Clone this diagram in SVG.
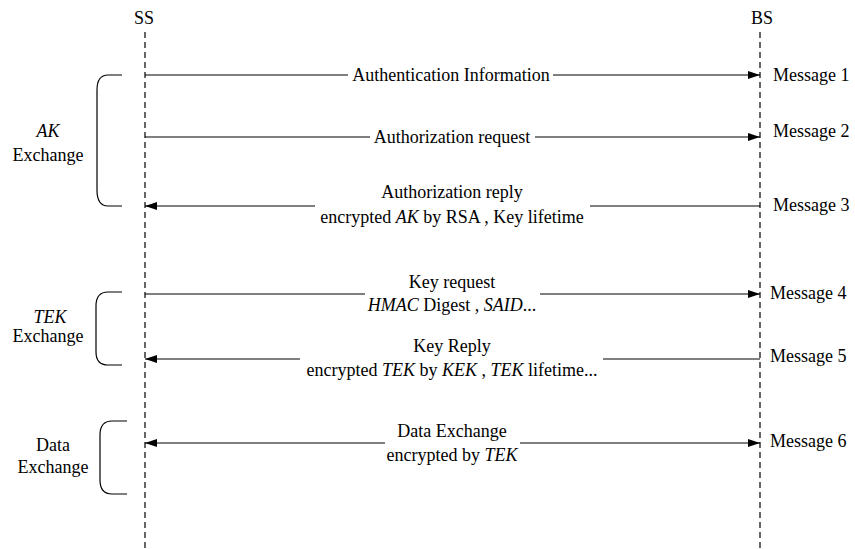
<svg xmlns="http://www.w3.org/2000/svg" width="855" height="549" viewBox="0 0 855 549" font-family="'Liberation Serif','Times New Roman',serif">
<style>
text{font-family:"Liberation Serif","Times New Roman",serif;font-size:18px;fill:#000}
.c{text-anchor:middle}
.i{font-style:italic}
.life{stroke:#000;stroke-width:1.2;stroke-dasharray:6,4;fill:none}
.ln{stroke:#000;stroke-width:1.2;fill:none}
.br{stroke:#000;stroke-width:1.2;fill:none}
</style>
<defs>
<marker id="ah" viewBox="0 0 12 8" refX="12" refY="4" markerWidth="12" markerHeight="8" markerUnits="userSpaceOnUse" orient="auto-start-reverse">
<path d="M0,0 L12,4 L0,8 Z" fill="#000"/>
</marker>
</defs>
<rect width="855" height="549" fill="#fff"/>
<g id="SS">
<text class="c" x="144" y="24">SS</text>
<line class="life" x1="145" y1="32" x2="145" y2="549"/>
</g>
<g id="BS">
<text class="c" x="762" y="24">BS</text>
<line class="life" x1="760" y1="32" x2="760" y2="549"/>
</g>
<g id="brace-ak">
<path class="br" d="M122,75 H108 Q97,75 97,90 V190 Q97,206 108,206 H122"/>
<text class="c i" x="48" y="137">AK</text>
<text class="c" x="48" y="161">Exchange</text>
</g>
<g id="brace-tek">
<path class="br" d="M122,292 H108 Q96,292 96,306 V352 Q96,365 108,365 H122"/>
<text class="c i" x="50" y="323">TEK</text>
<text class="c" x="48" y="342">Exchange</text>
</g>
<g id="brace-data">
<path class="br" d="M127,421 H112 Q100,421 100,435 V480 Q100,494 112,494 H127"/>
<text class="c" x="53" y="451">Data</text>
<text class="c" x="53" y="473">Exchange</text>
</g>
<g id="connectors">
<line class="ln" x1="145" y1="75" x2="348" y2="75"/>
<line class="ln" x1="553" y1="75" x2="760" y2="75" marker-end="url(#ah)"/>
<line class="ln" x1="145" y1="137" x2="370" y2="137"/>
<line class="ln" x1="535" y1="137" x2="760" y2="137" marker-end="url(#ah)"/>
<line class="ln" x1="315" y1="206" x2="145" y2="206" marker-end="url(#ah)"/>
<line class="ln" x1="590" y1="206" x2="760" y2="206"/>
<line class="ln" x1="145" y1="294" x2="365" y2="294"/>
<line class="ln" x1="540" y1="294" x2="760" y2="294" marker-end="url(#ah)"/>
<line class="ln" x1="300" y1="359" x2="145" y2="359" marker-end="url(#ah)"/>
<line class="ln" x1="603" y1="359" x2="760" y2="359"/>
<line class="ln" x1="385" y1="443" x2="145" y2="443" marker-end="url(#ah)"/>
<line class="ln" x1="520" y1="443" x2="760" y2="443" marker-end="url(#ah)"/>
</g>
<g id="msg1">
<text class="c" x="451" y="81">Authentication Information</text>
<text x="773" y="81">Message 1</text>
</g>
<g id="msg2">
<text class="c" x="452" y="143">Authorization request</text>
<text x="773" y="137">Message 2</text>
</g>
<g id="msg3">
<text class="c" x="452" y="198">Authorization reply</text>
<text class="c" x="452" y="223">encrypted <tspan class="i">AK</tspan> by RSA , Key lifetime</text>
<text x="773" y="211">Message 3</text>
</g>
<g id="msg4">
<text class="c" x="452" y="288">Key request</text>
<text class="c" x="452" y="311"><tspan class="i">HMAC</tspan> Digest , <tspan class="i">SAID</tspan>...</text>
<text x="770" y="299">Message 4</text>
</g>
<g id="msg5">
<text class="c" x="452" y="352">Key Reply</text>
<text class="c" x="452" y="376">encrypted <tspan class="i">TEK</tspan> by <tspan class="i">KEK</tspan> , <tspan class="i">TEK</tspan> lifetime...</text>
<text x="770" y="362">Message 5</text>
</g>
<g id="msg6">
<text class="c" x="452" y="437">Data Exchange</text>
<text class="c" x="452" y="461">encrypted by <tspan class="i">TEK</tspan></text>
<text x="770" y="447">Message 6</text>
</g>
</svg>
